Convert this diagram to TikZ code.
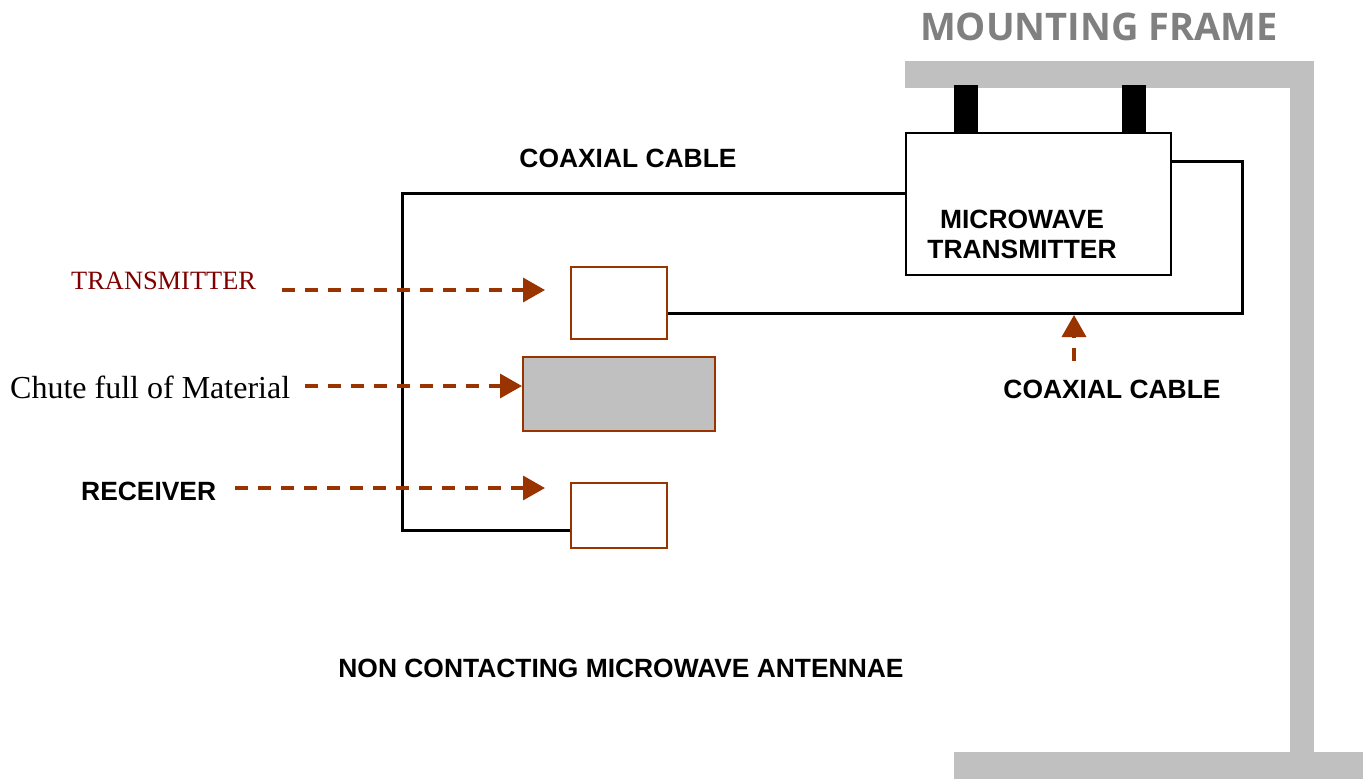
\documentclass[tikz,border=0pt]{standalone}
\usepackage{fontspec}
\setmainfont{Liberation Serif}
\newfontfamily\arialf{Liberation Sans}
\newfontfamily\opensf{Open Sans}
\usetikzlibrary{arrows.meta,calc}
\definecolor{frameg}{HTML}{C0C0C0}
\definecolor{textg}{HTML}{808080}
\definecolor{rust}{HTML}{993300}
\definecolor{dred}{HTML}{800000}
\begin{document}
\begin{tikzpicture}[x=1pt,y=-1pt,
  cable/.style={line width=3pt},
  antbox/.style={draw=rust,line width=1.8pt,fill=white,minimum width=96pt,minimum height=72pt,anchor=north west,inner sep=0pt},
  pointer/.style={draw=rust,line width=3.5pt,dash pattern=on 13pt off 10pt,-{Triangle[length=22pt,width=24pt]}},
  lab/.style={font=\arialf\bfseries\fontsize{26.4}{30}\selectfont,inner sep=0pt,align=center},
  serif/.style={font=\fontsize{26.4}{30}\selectfont,inner sep=0pt}]
\useasboundingbox (0,0) rectangle (1363,779);
% mounting frame
\fill[frameg] (905,61) rectangle (1314,88);
\fill[frameg] (1290,61) rectangle (1314,779);
\fill[frameg] (954,752) rectangle (1363,779);
\fill[black] (954,85) rectangle (978,133);
\fill[black] (1122,85) rectangle (1146,133);
\node[font=\opensf\bfseries\fontsize{38}{44}\selectfont,text=textg,inner sep=0pt] (mf) at (1099,27) {MOUNTING FRAME};
% transmitter box
\node[draw,line width=1.5pt,fill=white,minimum width=265pt,minimum height=142pt,anchor=north west,inner sep=0pt] (mt) at (905,132) {};
\node[lab] (mtl) at (1022,234) {MICROWAVE\\TRANSMITTER};
% antenna boxes
\node[antbox] (tx) at (570,266) {};
\node[antbox,fill=frameg,minimum width=192pt,minimum height=74pt] (ch) at (522,356) {};
\node[antbox,minimum height=65pt] (rx) at (570,482) {};
% cables
\coordinate (c1) at (1242,161);
\coordinate (c2) at (1242,313);
\coordinate (c3) at (402,193);
\coordinate (c4) at (402,530);
\draw[cable] (mt.east |- c1) -- (c1) -- (c2) -- (tx.east |- c2);
\draw[cable] (mt.west |- c3) -- (c3) -- (c4) -- (rx.west |- c4);
% labels
\node[lab] (cc1) at (628,158) {COAXIAL CABLE};
\node[lab] (cc2) at (1112,389) {COAXIAL CABLE};
\node[serif,text=dred,anchor=west] (tl) at (71,281) {TRANSMITTER};
\node[serif,font=\fontsize{32}{36}\selectfont,anchor=west] (cl) at (10,387) {Chute full of Material};
\node[lab,anchor=west] (rl) at (81,491) {RECEIVER};
\node[lab] (nc) at (621,668) {NON CONTACTING MICROWAVE ANTENNAE};
% pointers
\coordinate (p1) at (282,290);
\coordinate (p2) at (545,290);
\coordinate (p3) at (305,386);
\coordinate (p5) at (235,488);
\coordinate (p6) at (545,488);
\coordinate (p7) at (1074,361);
\coordinate (p8) at (1074,315);
\draw[pointer] (p1) -- (p2);
\draw[pointer] (p3) -- (ch.west |- p3);
\draw[pointer] (p5) -- (p6);
\draw[pointer] (p7) -- (p8);
\end{tikzpicture}
\end{document}
